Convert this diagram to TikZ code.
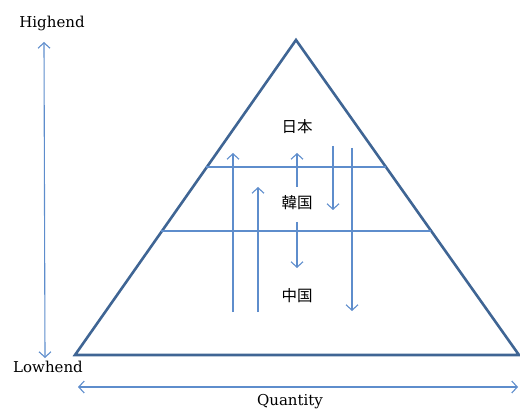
\documentclass[tikz,border=0pt]{standalone}
\usepackage{fontspec}
\setmainfont{DejaVu Serif}
\newfontfamily\cjk{Noto Sans CJK JP}
\usetikzlibrary{arrows.meta}
\definecolor{tri}{HTML}{3F6594}
\definecolor{thin}{HTML}{5E8DCC}
\tikzset{
  tribox/.style={draw=tri, line width=2.6pt, line join=miter},
  band/.style={draw=thin, line width=1.1pt},
  flow/.style={draw=thin, line width=1.1pt, -{Straight Barb[length=5.5pt,width=12pt,line width=1.1pt]}},
  twoway/.style={draw=thin, line width=1.1pt, {Straight Barb[length=5.5pt,width=12pt,line width=1.1pt]}-{Straight Barb[length=5.5pt,width=12pt,line width=1.1pt]}},
  cjklabel/.style={font=\cjk\fontsize{15.5pt}{18pt}\selectfont, inner sep=0pt},
  axislabel/.style={font=\fontsize{15pt}{18pt}\selectfont, inner sep=0pt, anchor=base}
}
\begin{document}
\begin{tikzpicture}[x=1pt,y=-1pt]
\useasboundingbox (0,0) rectangle (520,409);
\clip (0,0) rectangle (520,409);
% triangle
\coordinate (apex) at (296,40);
\coordinate (bl) at (75,355);
\coordinate (br) at (519,355);
\draw[tribox] (apex) -- (bl) -- (br) -- cycle;
% bands
\coordinate (u1) at (206,167);
\coordinate (u2) at (386,167);
\coordinate (l1) at (161,231);
\coordinate (l2) at (431,231);
\draw[band] (u1) -- (u2);
\draw[band] (l1) -- (l2);
% labels
\node[cjklabel] (jp) at (297,127) {日本};
\node[cjklabel] (kr) at (297,203) {韓国};
\node[cjklabel] (cn) at (297,296) {中国};
% arrows
\coordinate (a1s) at (233,312); \coordinate (a1e) at (233,153);
\coordinate (a2s) at (258,312); \coordinate (a2e) at (258,187);
\coordinate (a3s) at (297,187); \coordinate (a3e) at (297,153);
\coordinate (a4s) at (333,146); \coordinate (a4e) at (333,210);
\coordinate (a5s) at (352,148); \coordinate (a5e) at (352,311);
\coordinate (a6s) at (297,222); \coordinate (a6e) at (297,268);
\draw[flow] (a1s) -- (a1e);
\draw[flow] (a2s) -- (a2e);
\draw[flow] (a3s) -- (a3e);
\draw[flow] (a4s) -- (a4e);
\draw[flow] (a5s) -- (a5e);
\draw[flow] (a6s) -- (a6e);
% axes
\node[axislabel] (high) at (52,28) {Highend};
\node[axislabel] (low) at (48,372) {Lowhend};
\node[axislabel] (qty) at (290,405) {Quantity};
\coordinate (vt) at (44,42);
\coordinate (vb) at (45,358);
\draw[twoway] (vt) -- (vb);
\coordinate (hl) at (78,387);
\coordinate (hr) at (518,387);
\draw[twoway] (hl) -- (hr);
\end{tikzpicture}
\end{document}
